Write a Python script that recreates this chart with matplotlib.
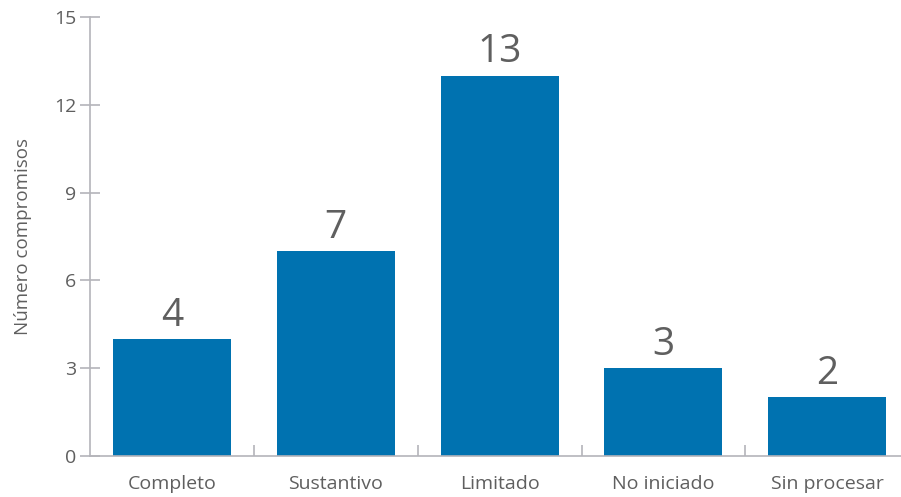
import numpy as np
import matplotlib.pyplot as plt

# Data
categories = ["Completo", "Sustantivo", "Limitado", "No iniciado", "Sin procesar"]
counts = [4, 7, 13, 3, 2]
yticks = [0, 3, 6, 9, 12, 15]

bar_color = "#0072B0"
axis_color = "#B4B4BA"
text_color = "#5F5F5F"

plt.rcParams["font.family"] = ["Open Sans", "DejaVu Sans"]

fig = plt.figure(figsize=(9.01, 4.97), dpi=100)
ax = fig.add_axes([90 / 901, 1 - 456 / 497, 1 - 90 / 901, (456 - 17) / 497])

x = np.arange(len(categories))
bars = ax.bar(x, counts, width=0.72, color=bar_color, zorder=2)

# value labels above bars
for xi, v in zip(x, counts):
    ax.annotate(str(v), (xi, v), xytext=(0, 9.5), textcoords="offset points",
                ha="center", va="baseline", fontsize=28, color=text_color)

ax.set_xlim(-0.5, 4.45)
ax.set_ylim(0, 15)
ax.set_yticks(yticks)
ax.set_yticklabels([str(t) for t in yticks])

# category labels at centers, tick marks at boundaries
ax.set_xticks(x)
ax.set_xticklabels(categories)
ax.tick_params(axis="x", which="major", length=0, pad=14, labelsize=14, labelcolor=text_color)
ax.set_xticks(x[:-1] + 0.5, minor=True)
ax.tick_params(axis="x", which="minor", direction="in", length=8, width=1.2, color=axis_color)

ax.tick_params(axis="y", direction="inout", length=14, width=1.2, color=axis_color,
               labelsize=14, labelcolor=text_color, pad=3)

for side in ["top", "right"]:
    ax.spines[side].set_visible(False)
for side in ["left", "bottom"]:
    ax.spines[side].set_color(axis_color)
    ax.spines[side].set_linewidth(1.2)

ax.set_ylabel("Número compromisos", fontsize=13.5, color=text_color, labelpad=16)

fig.savefig("out.png", dpi=100)
